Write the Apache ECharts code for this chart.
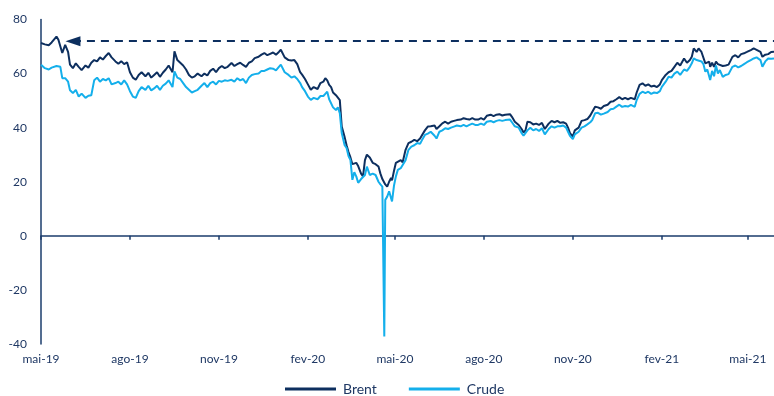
<!DOCTYPE html>
<html>
<head>
<meta charset="utf-8">
<script src="https://cdn.jsdelivr.net/npm/echarts@6/dist/echarts.min.js"></script>
<style>html,body{margin:0;padding:0;background:#fff}#c{width:774px;height:396px}</style>
</head>
<body>
<div id="c"></div>
<script>
// ---- data ----
const dates = [
'2019-05-01','2019-05-05','2019-05-09','2019-05-12','2019-05-17','2019-05-19','2019-05-21','2019-05-23','2019-05-26','2019-05-29',
'2019-05-31','2019-06-03','2019-06-06','2019-06-09','2019-06-12','2019-06-16','2019-06-19','2019-06-22','2019-06-25','2019-06-28',
'2019-07-01','2019-07-04','2019-07-07','2019-07-10','2019-07-13','2019-07-17','2019-07-20','2019-07-23','2019-07-26','2019-07-29',
'2019-08-01','2019-08-04','2019-08-07','2019-08-10','2019-08-13','2019-08-17','2019-08-20','2019-08-23','2019-08-26','2019-08-29',
'2019-09-01','2019-09-04','2019-09-07','2019-09-10','2019-09-14','2019-09-16','2019-09-19','2019-09-22','2019-09-25','2019-09-28',
'2019-10-01','2019-10-04','2019-10-07','2019-10-10','2019-10-14','2019-10-17','2019-10-20','2019-10-23','2019-10-26','2019-10-29',
'2019-11-01','2019-11-04','2019-11-07','2019-11-10','2019-11-14','2019-11-17','2019-11-20','2019-11-23','2019-11-26','2019-11-29',
'2019-12-02','2019-12-05','2019-12-08','2019-12-12','2019-12-15','2019-12-18','2019-12-21','2019-12-24','2019-12-27','2019-12-30',
'2020-01-02','2020-01-04','2020-01-06','2020-01-08','2020-01-12','2020-01-15','2020-01-18','2020-01-21','2020-01-24','2020-01-26',
'2020-01-29','2020-02-01','2020-02-04','2020-02-07','2020-02-11','2020-02-14','2020-02-17','2020-02-19','2020-02-21','2020-02-23',
'2020-02-25','2020-02-27','2020-03-01','2020-03-03','2020-03-05','2020-03-07','2020-03-10','2020-03-12','2020-03-14','2020-03-16',
'2020-03-18','2020-03-20','2020-03-22','2020-03-24','2020-03-27','2020-03-29','2020-03-31','2020-04-02','2020-04-05','2020-04-08',
'2020-04-11','2020-04-14','2020-04-16','2020-04-18','2020-04-20','2020-04-21','2020-04-23','2020-04-25','2020-04-27','2020-04-28',
'2020-04-30','2020-05-02','2020-05-04','2020-05-07','2020-05-09','2020-05-12','2020-05-15','2020-05-18','2020-05-21','2020-05-24',
'2020-05-27','2020-05-29','2020-06-01','2020-06-04','2020-06-07','2020-06-11','2020-06-13','2020-06-16','2020-06-19','2020-06-22',
'2020-06-25','2020-06-28','2020-07-01','2020-07-04','2020-07-08','2020-07-11','2020-07-14','2020-07-17','2020-07-20','2020-07-23',
'2020-07-26','2020-07-29','2020-08-01','2020-08-04','2020-08-08','2020-08-11','2020-08-14','2020-08-17','2020-08-20','2020-08-23',
'2020-08-25','2020-08-28','2020-08-30','2020-09-02','2020-09-06','2020-09-09','2020-09-11','2020-09-13','2020-09-15','2020-09-18',
'2020-09-21','2020-09-24','2020-09-27','2020-09-30','2020-10-03','2020-10-07','2020-10-10','2020-10-13','2020-10-16','2020-10-19',
'2020-10-22','2020-10-25','2020-10-27','2020-10-29','2020-11-01','2020-11-03','2020-11-07','2020-11-10','2020-11-13','2020-11-16',
'2020-11-19','2020-11-21','2020-11-24','2020-11-27','2020-11-30','2020-12-03','2020-12-07','2020-12-10','2020-12-13','2020-12-16',
'2020-12-19','2020-12-22','2020-12-25','2020-12-28','2020-12-31','2021-01-04','2021-01-06','2021-01-09','2021-01-12','2021-01-15',
'2021-01-18','2021-01-21','2021-01-24','2021-01-27','2021-01-30','2021-02-01','2021-02-05','2021-02-08','2021-02-11','2021-02-14',
'2021-02-17','2021-02-20','2021-02-24','2021-02-27','2021-03-02','2021-03-04','2021-03-06','2021-03-09','2021-03-11','2021-03-14',
'2021-03-16','2021-03-18','2021-03-20','2021-03-22','2021-03-23','2021-03-25','2021-03-27','2021-03-29','2021-03-31','2021-04-02',
'2021-04-05','2021-04-08','2021-04-11','2021-04-13','2021-04-15','2021-04-18','2021-04-21','2021-04-24','2021-04-27','2021-04-30',
'2021-05-04','2021-05-07','2021-05-10','2021-05-12','2021-05-14','2021-05-16','2021-05-19','2021-05-22','2021-05-25','2021-05-28'
];
const brent = [
71.3,70.8,70.5,71.5,73.7,72.5,71.9,67.6,70.6,68.0,
63.3,62.0,63.8,62.5,61.3,63.0,62.2,64.0,65.0,64.5,
66.0,65.2,66.5,67.6,66.0,64.5,63.6,64.6,63.5,64.2,
60.5,58.5,57.7,59.5,60.5,59.0,60.3,58.5,59.5,60.5,
58.8,60.3,61.5,63.0,60.5,68.2,65.0,64.0,63.0,61.5,
59.5,58.5,59.0,60.0,59.0,60.0,59.3,61.0,61.8,60.5,
62.0,62.8,62.0,62.5,63.9,62.8,63.5,64.0,63.2,62.5,
64.0,64.5,65.7,66.2,67.0,67.6,66.8,67.3,67.8,67.0,
68.0,68.8,68.5,66.0,65.0,64.8,65.0,63.5,60.5,59.6,
58.0,56.0,54.0,55.0,54.3,56.5,57.0,58.3,57.5,55.8,
55.0,53.0,52.0,52.5,50.2,40.4,36.5,33.5,31.0,29.0,
26.5,26.0,27.0,25.8,23.0,22.0,28.0,30.0,29.0,27.0,
26.5,25.6,23.0,21.0,20.5,19.0,18.2,20.0,21.4,20.5,
24.0,27.0,27.5,28.0,27.2,31.8,34.3,34.8,35.5,35.0,
36.0,36.7,39.0,40.4,40.5,40.8,39.5,40.5,41.6,42.2,
41.5,42.2,42.5,42.8,43.0,43.5,43.2,43.0,43.5,43.0,
43.0,43.5,43.0,44.4,44.8,44.3,44.8,45.0,44.5,44.8,
45.3,45.0,44.0,42.2,41.0,39.5,38.2,39.0,42.2,42.0,
41.2,41.5,41.0,41.8,39.5,41.5,42.5,42.0,42.5,41.8,
42.0,41.5,40.0,38.0,36.7,39.0,40.0,42.5,42.8,43.2,
44.5,45.0,47.7,47.5,47.0,48.0,48.5,49.6,49.8,50.5,
51.3,50.5,51.0,50.5,51.0,50.5,53.0,55.8,56.4,55.5,
56.0,55.2,55.5,55.0,56.0,57.6,59.5,60.5,61.0,62.5,
64.0,63.0,65.6,64.0,65.0,66.2,69.3,68.0,69.3,68.0,
67.5,63.8,64.2,64.4,62.5,64.0,62.5,64.4,63.5,64.0,
62.8,63.0,63.3,62.8,66.2,66.8,66.0,67.2,67.5,68.0,
68.7,69.3,68.8,69.3,68.0,66.2,67.0,67.2,68.0,68.1
];
const crude = [
63.3,62.0,61.5,62.2,62.8,63.3,62.5,58.3,58.3,57.0,
53.8,52.8,54.0,51.5,52.6,51.0,51.8,52.0,57.5,58.5,
57.0,58.0,57.5,58.3,56.0,56.5,57.0,56.0,57.5,56.0,
53.5,51.5,51.0,53.5,55.0,54.0,55.5,53.8,54.5,55.5,
54.0,55.5,56.3,57.5,55.0,60.8,58.5,58.0,56.5,55.0,
54.0,53.0,53.5,54.0,55.5,56.5,55.0,56.5,57.0,56.0,
57.3,57.0,57.5,57.3,57.7,57.0,58.3,57.5,58.0,56.5,
58.5,59.5,59.8,60.0,61.0,61.0,61.5,62.0,61.8,61.2,
62.5,63.3,62.8,60.5,59.5,58.5,59.0,58.0,56.5,55.0,
53.5,51.5,50.3,51.0,50.5,51.7,51.7,52.5,53.3,50.5,
50.0,47.5,46.5,47.5,45.4,38.0,33.5,32.5,29.5,28.0,
20.7,23.5,22.0,19.6,21.0,20.8,22.5,25.6,22.5,23.0,
22.5,20.0,19.0,18.2,-37.2,13.3,14.5,16.5,15.9,12.7,
18.5,22.0,24.4,25.0,25.5,28.0,31.8,33.0,33.5,34.3,
34.0,35.4,37.3,37.8,38.5,37.0,36.0,38.5,39.0,39.8,
39.5,40.0,40.4,40.8,40.5,41.0,40.5,41.0,41.5,41.0,
41.0,41.5,41.0,42.2,42.5,42.0,42.5,42.8,42.5,42.8,
43.5,43.0,42.0,40.5,40.0,38.0,37.0,37.5,39.0,40.0,
39.0,39.5,38.8,39.8,37.5,39.5,40.5,40.0,40.5,40.5,
40.8,40.0,38.5,37.0,35.8,37.5,38.5,40.0,40.5,41.2,
42.0,42.8,45.3,45.5,44.8,45.2,45.8,46.8,47.0,47.8,
48.5,47.7,48.0,47.8,48.4,47.7,50.2,52.5,53.3,52.8,
53.3,52.5,53.0,52.8,53.5,55.1,57.0,58.8,58.5,60.0,
60.7,59.5,61.5,61.0,62.5,63.8,65.6,65.0,65.6,64.5,
63.5,60.7,61.5,61.3,57.6,61.0,59.0,63.0,60.0,61.3,
58.8,59.5,59.8,59.3,62.5,63.0,62.3,62.8,63.5,64.2,
65.0,65.6,66.0,66.2,65.0,62.5,64.5,65.6,65.5,65.6
];
const tickDates = ['2019-05-01','2019-08-01','2019-11-01','2020-02-01','2020-05-01','2020-08-01','2020-11-01','2021-02-01','2021-05-01'];
const tickLabels = ['mai-19','ago-19','nov-19','fev-20','mai-20','ago-20','nov-20','fev-21','mai-21'];
const seriesNames = ['Brent','Crude'];
const refLevel = 72;
const refStart = '2019-06-03';
const xMin = '2019-05-01';
const xMax = '2021-05-28';

// ---- chart ----
function ts(s){ const p = s.split('-').map(Number); return Date.UTC(p[0], p[1]-1, p[2]); }
const tickTs = tickDates.map(ts);
const navy = '#0d2f5f';
const light = '#14afeb';
const axisColor = '#1b3c6c';
const txt = '#1f3864';
const font = 'Lato, "Open Sans", sans-serif';

const chart = echarts.init(document.getElementById('c'), null, {renderer:'canvas'});
const fmt = v => { const i = tickTs.indexOf(v); return i >= 0 ? tickLabels[i] : ''; };
chart.setOption({
  animation: false,
  grid: {left: 41, right: 0, top: 19.5, bottom: 52},
  legend: {
    data: seriesNames, left: 285, top: 382, padding: 0, itemWidth: 51, itemHeight: 3, itemGap: 32,
    icon: 'rect',
    textStyle: {color: txt, fontSize: 14, fontFamily: font, padding: [0,0,0,2]}
  },
  xAxis: [{
    type: 'value', min: ts(xMin), max: ts(xMax), scale: true,
    axisLine: {show: true, onZero: true, lineStyle: {color: axisColor, width: 1.5}},
    axisTick: {show: true, length: 4, customValues: tickTs, lineStyle: {color: axisColor, width: 1.5}},
    axisLabel: {show: false},
    splitLine: {show: false}
  },{
    type: 'value', min: ts(xMin), max: ts(xMax), scale: true, position: 'bottom',
    axisLine: {show: false, onZero: false}, axisTick: {show: false},
    axisLabel: {show: true, customValues: tickTs, formatter: fmt, color: txt, fontSize: 12, fontFamily: font, margin: 9, hideOverlap: false, showMinLabel: true, showMaxLabel: true},
    splitLine: {show: false}
  }],
  yAxis: {
    type: 'value', min: -40, max: 80, interval: 20,
    axisLine: {show: true, lineStyle: {color: axisColor, width: 1.5}},
    axisTick: {show: false},
    axisLabel: {color: txt, fontSize: 12, fontFamily: font, margin: 14},
    splitLine: {show: false}
  },
  series: [{
    name: seriesNames[0], type: 'line', xAxisIndex: 0, showSymbol: false, symbol: 'none',
    data: dates.map((d,i) => [ts(d), brent[i]]),
    lineStyle: {color: navy, width: 2}, itemStyle: {color: navy},
    markLine: {
      silent: true, animation: false,
      symbol: ['path://M5,0L10,14L0,14Z', 'none'], symbolSize: [10, 15],
      label: {show: false},
      lineStyle: {color: navy, width: 2, type: [8, 6]},
      data: [[{coord: [ts(refStart), refLevel]}, {coord: [ts(xMax), refLevel]}]]
    }
  },{
    name: seriesNames[1], type: 'line', xAxisIndex: 0, showSymbol: false, symbol: 'none',
    data: dates.map((d,i) => [ts(d), crude[i]]),
    lineStyle: {color: light, width: 2}, itemStyle: {color: light}
  }]
});
</script>
</body>
</html>
